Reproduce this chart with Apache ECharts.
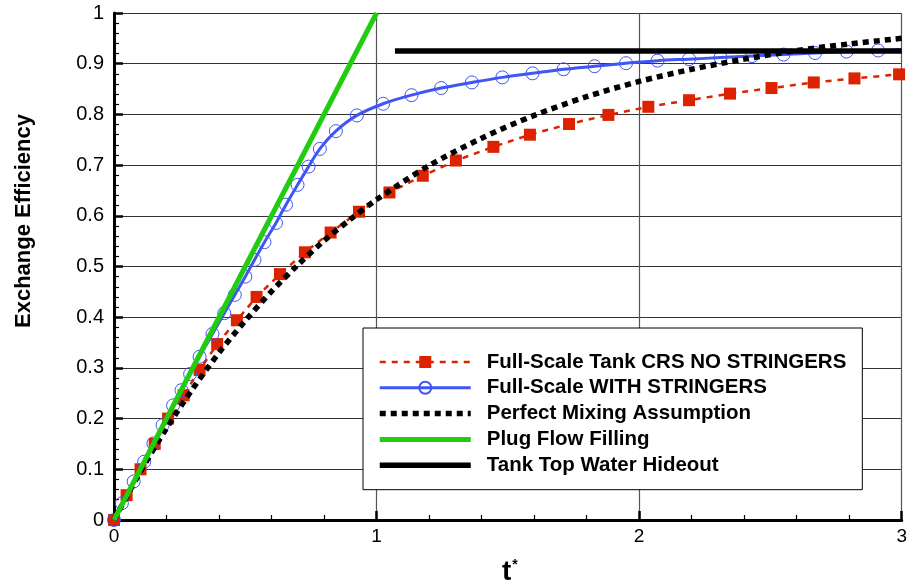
<!DOCTYPE html>
<html>
<head>
<meta charset="utf-8">
<script src="https://cdn.jsdelivr.net/npm/echarts@6/dist/echarts.min.js"></script>
<style>
  html, body { margin: 0; padding: 0; background: #fff; }
  #chart { width: 910px; height: 587px; }
</style>
</head>
<body>
<div id="chart"></div>
<script>
// Full-scale tank, no stringers (red squares, dashed)
const noStringersT = [0, 0.048, 0.101, 0.155, 0.206, 0.265, 0.326, 0.393, 0.468, 0.543, 0.632, 0.727, 0.825, 0.933, 1.049, 1.176, 1.302, 1.445, 1.584, 1.733, 1.883, 2.035, 2.19, 2.346, 2.504, 2.665, 2.82, 2.99];
const noStringersE = [0, 0.049, 0.100, 0.150, 0.200, 0.246, 0.296, 0.347, 0.394, 0.440, 0.485, 0.528, 0.567, 0.608, 0.646, 0.679, 0.709, 0.736, 0.760, 0.781, 0.799, 0.815, 0.828, 0.841, 0.852, 0.863, 0.871, 0.879];

// Full-scale tank with stringers (blue open circles, solid)
const withStringersT = [0, 0.03, 0.075, 0.115, 0.15, 0.185, 0.225, 0.257, 0.29, 0.326, 0.375, 0.42, 0.46, 0.5, 0.535, 0.573, 0.617, 0.655, 0.699, 0.741, 0.784, 0.845, 0.925, 1.025, 1.133, 1.246, 1.363, 1.479, 1.594, 1.712, 1.83, 1.95, 2.07, 2.19, 2.31, 2.43, 2.55, 2.67, 2.79, 2.91, 3.0];
const withStringersE = [0, 0.033, 0.076, 0.115, 0.151, 0.187, 0.226, 0.256, 0.288, 0.322, 0.367, 0.408, 0.444, 0.480, 0.513, 0.548, 0.586, 0.622, 0.661, 0.697, 0.732, 0.767, 0.798, 0.821, 0.838, 0.852, 0.863, 0.873, 0.881, 0.889, 0.895, 0.901, 0.906, 0.909, 0.912, 0.915, 0.918, 0.921, 0.924, 0.926, 0.928];

// Perfect mixing assumption (black dotted)
const mixingT = [0, 0.1, 0.2, 0.3, 0.4, 0.5, 0.6, 0.7, 0.8, 0.9, 1.0, 1.2, 1.4, 1.6, 1.8, 2.0, 2.2, 2.4, 2.6, 2.8, 3.0];
const mixingE = [0, 0.095, 0.181, 0.259, 0.330, 0.393, 0.451, 0.503, 0.551, 0.593, 0.632, 0.699, 0.753, 0.798, 0.835, 0.865, 0.889, 0.909, 0.926, 0.939, 0.950];

// Plug flow filling (green)
const plugT = [0, 1.0];
const plugE = [0, 1.0];

// Tank top water hideout (black, horizontal)
const hideoutT = [1.07, 3.0];
const hideoutE = [0.925, 0.925];

const seriesNames = [
  'Full-Scale Tank CRS NO STRINGERS',
  'Full-Scale WITH STRINGERS',
  'Perfect Mixing Assumption',
  'Plug Flow Filling',
  'Tank Top Water Hideout'
];

const xTickLabels = ['0', '1', '2', '3'];
const yTickLabels = ['0', '0.1', '0.2', '0.3', '0.4', '0.5', '0.6', '0.7', '0.8', '0.9', '1'];

const pairs = (xs, ys) => xs.map((x, i) => [x, ys[i]]);

const FONT = '"Liberation Sans", Arial, Helvetica, sans-serif';
const RED = '#dd2200';
const BLUE = '#3f55f5';
const GREEN = '#22cc11';

// The stringer curve runs on to the right edge; its last point carries no marker.
const withStringersData = pairs(withStringersT, withStringersE).map((p, i, arr) =>
  i === arr.length - 1 ? { value: p, symbol: 'none' } : p);

const chart = echarts.init(document.getElementById('chart'), null, { renderer: 'canvas' });

chart.setOption({
  animation: false,
  backgroundColor: '#fff',
  grid: { left: 114, right: 5, top: 13, bottom: 67, containLabel: false },
  xAxis: {
    type: 'value', min: 0, max: 3, interval: 1,
    axisLine: { show: true, onZero: false, lineStyle: { color: '#000', width: 3 } },
    axisTick: { show: true, inside: true, length: 9, lineStyle: { color: '#000', width: 2.5 } },
    minorTick: { show: true, splitNumber: 5, length: 5, lineStyle: { color: '#000', width: 1.2 } },
    splitLine: { show: true, lineStyle: { color: '#555', width: 1.2 } },
    axisLabel: {
      margin: 7, fontFamily: FONT, fontSize: 19, color: '#000',
      formatter: (v) => xTickLabels[Math.round(v)]
    }
  },
  yAxis: {
    type: 'value', min: 0, max: 1, interval: 0.1,
    axisLine: { show: true, onZero: false, lineStyle: { color: '#000', width: 3 } },
    axisTick: { show: true, inside: true, length: 9, lineStyle: { color: '#000', width: 2.5 } },
    minorTick: { show: true, splitNumber: 5, length: 5, lineStyle: { color: '#000', width: 1.2 } },
    splitLine: { show: true, lineStyle: { color: '#333', width: 1.2 } },
    axisLabel: {
      margin: 10, fontFamily: FONT, fontSize: 20, color: '#000',
      formatter: (v) => yTickLabels[Math.round(v * 10)]
    }
  },
  legend: {
    orient: 'vertical',
    left: 363, top: 328,
    padding: [23.5, 16, 14, 14],
    itemGap: 4.8,
    itemWidth: 91, itemHeight: 15,
    backgroundColor: '#fff',
    borderColor: '#000', borderWidth: 1,
    lineStyle: { width: 'inherit' },
    textStyle: { fontFamily: FONT, fontSize: 20.5, fontWeight: 'bold', color: '#000', padding: [0, 0, 0, 11] },
    data: seriesNames
  },
  series: [
    {
      name: seriesNames[0], type: 'line',
      data: pairs(noStringersT, noStringersE),
      symbol: 'rect', symbolSize: 12, showAllSymbol: true,
      itemStyle: { color: RED },
      lineStyle: { color: RED, width: 2.5, type: [6, 6] },
      z: 2
    },
    {
      name: seriesNames[1], type: 'line',
      data: withStringersData,
      smooth: 0.35,
      symbol: 'circle', symbolSize: 13, showAllSymbol: true,
      itemStyle: { color: 'rgba(255,255,255,0)', borderColor: BLUE, borderWidth: 1 },
      lineStyle: { color: BLUE, width: 3 },
      z: 3
    },
    {
      name: seriesNames[2], type: 'line',
      data: pairs(mixingT, mixingE),
      smooth: 0.3,
      symbol: 'none',
      itemStyle: { color: 'rgba(0,0,0,0)' },
      lineStyle: { color: '#000', width: 5.5, type: [6, 5], cap: 'butt' },
      z: 4
    },
    {
      name: seriesNames[3], type: 'line',
      data: pairs(plugT, plugE),
      symbol: 'none',
      itemStyle: { color: 'rgba(0,0,0,0)' },
      lineStyle: { color: GREEN, width: 5 },
      z: 5
    },
    {
      name: seriesNames[4], type: 'line',
      data: pairs(hideoutT, hideoutE),
      symbol: 'none',
      itemStyle: { color: 'rgba(0,0,0,0)' },
      lineStyle: { color: '#000', width: 5.5 },
      z: 6
    }
  ],
  graphic: [
    {
      type: 'text', left: 13, top: 114, rotation: Math.PI / 2,
      style: { text: 'Exchange Efficiency', font: 'bold 22px ' + FONT, fill: '#000' }
    },
    {
      type: 'text', left: 502, top: 558,
      style: {
        text: '{t|t}{s|*}',
        rich: {
          t: { font: 'bold 28px ' + FONT, fill: '#000' },
          s: { font: 'bold 14px ' + FONT, fill: '#000', verticalAlign: 'top', padding: [0, 0, 14, 1] }
        }
      }
    }
  ]
});
</script>
</body>
</html>
